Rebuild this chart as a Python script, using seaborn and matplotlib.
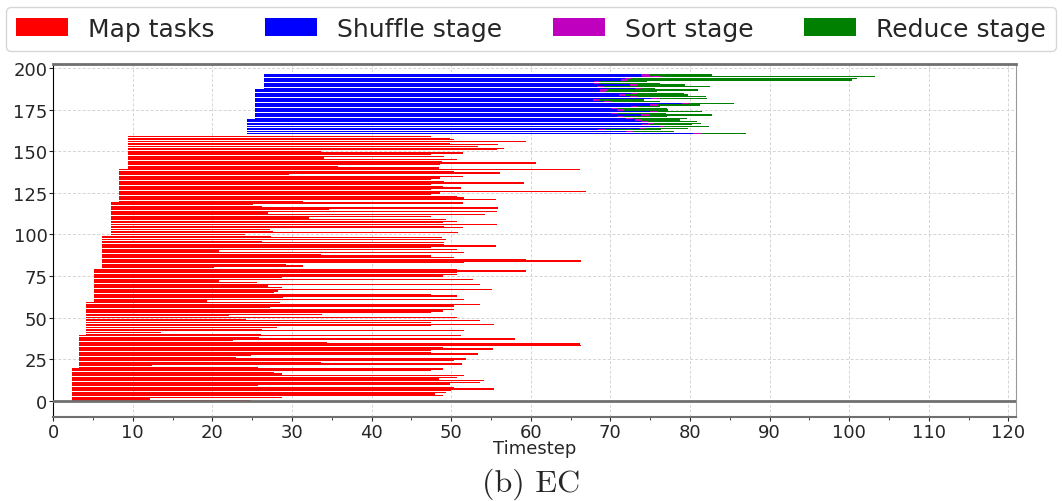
import numpy as np
import pandas as pd
import matplotlib.pyplot as plt
import seaborn as sns

# map tasks: start time shared by blocks of 20 tasks (task 0 upwards)
map_block_start = [2.4, 3.2, 4.1, 5.2, 6.2, 7.3, 8.3, 9.35]
map_block_size = 20

# map task end times, listed from the top task (159) down to task 0
map_end_desc = [
    # 159..140
    47.5, 49.8, 50.4, 59.4, 49.9, 55.9, 53.4, 56.7, 55.8, 33.6,
    51.5, 47.5, 49.1, 34.0, 50.7, 48.8, 60.7, 48.6, 35.8, 48.5,
    # 139..120
    66.2, 50.4, 56.1, 29.6, 51.5, 48.6, 47.5, 49.1, 59.2, 47.5,
    49.0, 51.2, 47.5, 66.9, 48.6, 47.5, 50.8, 51.6, 55.6, 31.4,
    # 119..100
    51.5, 25.1, 26.2, 55.9, 34.7, 55.8, 27.0, 54.2, 47.5, 32.2,
    49.3, 50.7, 49.0, 55.8, 49.1, 51.5, 27.2, 27.6, 50.9, 24.1,
    # 99..80
    27.4, 48.8, 49.3, 26.3, 49.1, 49.1, 55.6, 47.5, 50.7, 20.9,
    51.6, 33.7, 47.5, 50.4, 59.4, 66.3, 51.6, 29.2, 31.4, 20.2,
    # 79..60
    50.7, 59.4, 50.8, 50.8, 49.0, 28.8, 52.8, 20.9, 25.6, 53.6,
    27.0, 28.8, 55.1, 28.2, 27.8, 47.5, 50.7, 28.9, 51.6, 19.3,
    # 59..40
    28.5, 53.6, 50.4, 27.3, 50.4, 49.0, 47.5, 33.8, 22.1, 50.8,
    24.2, 53.6, 47.5, 55.4, 47.5, 28.1, 26.2, 51.6, 13.5, 26.1,
    # 39..20
    51.3, 25.9, 58.0, 22.6, 34.4, 66.2, 66.3, 49.0, 55.3, 47.5,
    47.5, 53.4, 24.8, 23.0, 51.9, 50.4, 33.7, 51.4, 12.4, 25.7,
    # 19..0
    49.0, 47.5, 27.7, 28.8, 51.6, 50.8, 48.5, 54.1, 53.6, 49.9,
    25.8, 50.4, 55.4, 50.0, 49.3, 48.0, 49.0, 28.8, 12.2, 24.8,
]

# reduce tasks, listed from the top one down
shuffle_block_start = [26.5, 25.4, 24.4]
shuffle_block_size = [9, 18, 9]
shuffle_end = [
    73.8, 74.0, 71.8, 71.4, 67.9, 67.9, 72.5, 68.3, 73.1, 68.7,
    68.7, 72.6, 71.1, 72.5, 75.1, 67.8, 69.2, 79.0, 75.0, 72.6,
    70.1, 70.8, 75.0, 70.1, 73.9, 70.8, 72.0, 73.1, 73.9, 74.7,
    74.0, 76.3, 73.7, 68.5, 72.0, 80.4,
]
sort_end = [
    74.8, 76.5, 72.6, 72.2, 68.7, 68.7, 73.3, 69.2, 73.9, 69.6,
    69.5, 73.4, 71.9, 73.3, 76.3, 68.6, 70.1, 80.0, 75.9, 73.4,
    70.8, 71.6, 75.9, 71.0, 74.8, 71.6, 72.8, 74.0, 74.7, 75.5,
    74.8, 76.7, 74.4, 69.4, 72.8, 81.5,
]
reduce_end = [
    82.8, 103.3, 101.0, 100.4, 74.6, 76.2, 79.4, 82.5, 75.6, 81.0,
    75.8, 79.2, 79.8, 82.0, 82.2, 74.2, 76.3, 85.5, 81.3, 76.3,
    77.1, 77.3, 81.5, 77.0, 82.8, 77.1, 79.6, 78.7, 80.9, 81.4,
    80.3, 82.4, 79.7, 76.4, 78.0, 87.1,
]

stages = ['Map tasks', 'Shuffle stage', 'Sort stage', 'Reduce stage']
stage_colors = ['#ff0000', '#0000ff', '#bf00bf', '#008000']

# build one row per bar segment
n_map = len(map_end_desc)
map_end = map_end_desc[::-1]
map_start = np.repeat(map_block_start, map_block_size)[:n_map]
rows = []
for i in range(n_map):
    rows.append((i, map_start[i], map_end[i], 'Map tasks'))

n_red = len(reduce_end)
top_task = n_map + n_red
sh_start = np.repeat(shuffle_block_start, shuffle_block_size)
for k in range(n_red):
    y = top_task - k
    rows.append((y, sh_start[k], shuffle_end[k], 'Shuffle stage'))
    rows.append((y, shuffle_end[k], sort_end[k], 'Sort stage'))
    rows.append((y, sort_end[k], reduce_end[k], 'Reduce stage'))
df = pd.DataFrame(rows, columns=['task', 'start', 'end', 'stage'])

sns.set_style('white')
plt.rcParams['font.family'] = ['DejaVu Sans']

fig = plt.figure(figsize=(10.62, 5.02), dpi=100)
ax = fig.add_axes([0.05, 0.167, 0.907, 0.703])

palette = dict(zip(stages, stage_colors))
for stage in stages:
    part = df[df['stage'] == stage]
    ax.barh(part['task'], part['end'] - part['start'], left=part['start'],
            height=0.75, color=palette[stage], linewidth=0, label=stage, zorder=3)

ax.axhline(0, color='#707070', lw=2, zorder=4)

ax.set_xlim(0, 121)
ax.set_ylim(-10, 202.5)
ax.set_xticks(np.arange(0, 121, 10))
ax.set_xticks(np.arange(5, 121, 10), minor=True)
ax.set_yticks(np.arange(0, 201, 25))
ax.tick_params(axis='both', which='major', labelsize=13, length=3, pad=1,
               direction='out', left=True, bottom=True)
ax.tick_params(axis='x', which='minor', length=2, bottom=True)
ax.grid(True, which='major', color='#d4d4d4', linestyle=(0, (3, 2)), linewidth=0.7, zorder=0)
ax.set_xlabel('Timestep', fontsize=13, labelpad=-1)

ax.spines['left'].set_color('black')
ax.spines['top'].set_color('#707070')
ax.spines['top'].set_linewidth(2)
ax.spines['bottom'].set_color('#707070')
ax.spines['bottom'].set_linewidth(1.5)
ax.spines['right'].set_color('#999999')

fig.legend(loc='upper center', bbox_to_anchor=(0.5, 0.995), ncol=4, fontsize=18,
           handlelength=2.1, handleheight=0.7, handletextpad=0.8, columnspacing=2.0,
           frameon=True, borderaxespad=0.2)

fig.text(0.5, 0.036, '(b) EC', ha='center', va='center', fontsize=23, family='cmr10')

fig.savefig('out.png', dpi=100)
